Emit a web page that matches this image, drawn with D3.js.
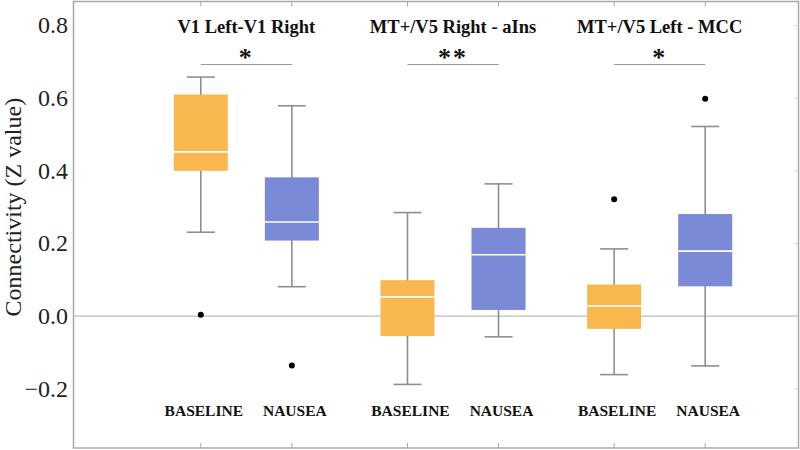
<!DOCTYPE html>
<html>
<head>
<meta charset="utf-8">
<script src="https://cdn.jsdelivr.net/npm/d3@7"></script>
<style>
  body { margin: 0; background: #fff; }
  svg { display: block; }
</style>
</head>
<body>
<div class="chart"></div>
<script>
// values (Z value)
const comparisons = ['V1 Left-V1 Right', 'MT+/V5 Right - aIns', 'MT+/V5 Left - MCC'];
const significance = ['*', '**', '*'];
const conditions = ['BASELINE', 'NAUSEA'];

// one entry per box, ordered comparison by comparison, baseline then nausea
const whiskerLow  = [0.231, 0.081, -0.188, -0.057, -0.161, -0.137];
const q1          = [0.400, 0.208, -0.055,  0.017, -0.035,  0.082];
const medians     = [0.452, 0.259,  0.053,  0.169,  0.028,  0.179];
const q3          = [0.610, 0.382,  0.099,  0.243,  0.087,  0.281];
const whiskerHigh = [0.658, 0.579,  0.285,  0.364,  0.185,  0.522];
const outliers    = [[0.004], [-0.136], [], [], [0.322], [0.598]];

const yTicks = [-0.2, 0.0, 0.2, 0.4, 0.6, 0.8];

const w = 800, h = 450;
const frame = { left: 73.5, right: 798.5, top: 1.5, bottom: 448 };

const svg = d3.select('.chart').append('svg')
  .attr('width', w)
  .attr('height', h);

const y = d3.scaleLinear()
  .domain([-0.363, 0.866])
  .range([frame.bottom, frame.top]);

// band for each comparison, then a point scale for baseline / nausea inside it
const xGroup = d3.scaleBand()
  .domain(comparisons)
  .range([143, 763]);

const xCond = d3.scalePoint()
  .domain(conditions)
  .range([0, xGroup.bandwidth()])
  .padding(0.635);

const boxes = [];
comparisons.forEach((c, i) => {
  conditions.forEach((k, j) => {
    const n = i * 2 + j;
    boxes.push({
      comp: c, cond: k,
      cx: xGroup(c) + xCond(k),
      lo: whiskerLow[n], q1: q1[n], med: medians[n], q3: q3[n], hi: whiskerHigh[n],
      out: outliers[n]
    });
  });
});

const colors = { BASELINE: '#f9b84f', NAUSEA: '#7b8ad6' };
const boxW = 54, capW = 28;
const serif = '"Liberation Serif", "Times New Roman", serif';

// zero line
svg.append('line')
  .attr('x1', frame.left).attr('x2', frame.right)
  .attr('y1', y(0)).attr('y2', y(0))
  .attr('stroke', '#bdbdbd')
  .attr('stroke-width', 1.2);

// frame
svg.append('rect')
  .attr('x', frame.left).attr('y', frame.top)
  .attr('width', frame.right - frame.left).attr('height', frame.bottom - frame.top)
  .attr('fill', 'none')
  .attr('stroke', '#a8a8a8')
  .attr('stroke-width', 1.5);

// small inward ticks on the frame
svg.selectAll('.tick-top')
  .data(boxes)
  .enter().append('line')
  .attr('x1', d => d.cx).attr('x2', d => d.cx)
  .attr('y1', frame.top).attr('y2', frame.top + 5)
  .attr('stroke', '#a8a8a8');

svg.selectAll('.tick-bottom')
  .data(boxes)
  .enter().append('line')
  .attr('x1', d => d.cx).attr('x2', d => d.cx)
  .attr('y1', frame.bottom).attr('y2', frame.bottom - 5)
  .attr('stroke', '#a8a8a8');

svg.selectAll('.tick-right')
  .data(yTicks)
  .enter().append('line')
  .attr('x1', frame.right).attr('x2', frame.right - 4)
  .attr('y1', d => y(d)).attr('y2', d => y(d))
  .attr('stroke', '#d0d0d0');

// y tick labels
svg.selectAll('.ylabel')
  .data(yTicks)
  .enter().append('text')
  .attr('x', 68)
  .attr('y', d => y(d))
  .attr('dy', '0.33em')
  .attr('text-anchor', 'end')
  .style('font-family', serif)
  .style('font-size', '24px')
  .attr('fill', '#222')
  .text(d => d3.format('.1f')(d).replace('-', '\u2212'));

// y axis title
svg.append('text')
  .attr('transform', `translate(21, ${y(0.3)}) rotate(-90)`)
  .attr('text-anchor', 'middle')
  .style('font-family', serif)
  .style('font-size', '24px')
  .attr('fill', '#222')
  .text('Connectivity (Z value)');

const g = svg.append('g');

// whiskers
g.selectAll('.whisker')
  .data(boxes)
  .enter().append('line')
  .attr('x1', d => d.cx).attr('x2', d => d.cx)
  .attr('y1', d => y(d.lo)).attr('y2', d => y(d.hi))
  .attr('stroke', '#8f8f8f')
  .attr('stroke-width', 1.6);

g.selectAll('.cap-hi')
  .data(boxes)
  .enter().append('line')
  .attr('x1', d => d.cx - capW / 2).attr('x2', d => d.cx + capW / 2)
  .attr('y1', d => y(d.hi)).attr('y2', d => y(d.hi))
  .attr('stroke', '#8f8f8f')
  .attr('stroke-width', 1.6);

g.selectAll('.cap-lo')
  .data(boxes)
  .enter().append('line')
  .attr('x1', d => d.cx - capW / 2).attr('x2', d => d.cx + capW / 2)
  .attr('y1', d => y(d.lo)).attr('y2', d => y(d.lo))
  .attr('stroke', '#8f8f8f')
  .attr('stroke-width', 1.6);

// boxes
g.selectAll('.box')
  .data(boxes)
  .enter().append('rect')
  .attr('x', d => d.cx - boxW / 2)
  .attr('y', d => y(d.q3))
  .attr('width', boxW)
  .attr('height', d => y(d.q1) - y(d.q3))
  .attr('fill', d => colors[d.cond]);

// medians
g.selectAll('.median')
  .data(boxes)
  .enter().append('line')
  .attr('x1', d => d.cx - boxW / 2).attr('x2', d => d.cx + boxW / 2)
  .attr('y1', d => y(d.med)).attr('y2', d => y(d.med))
  .attr('stroke', '#fff')
  .attr('stroke-width', 1.6);

// outliers
boxes.forEach(b => {
  g.selectAll(null)
    .data(b.out)
    .enter().append('circle')
    .attr('cx', b.cx)
    .attr('cy', d => y(d))
    .attr('r', 3)
    .attr('fill', '#000');
});

// condition labels under each box
svg.selectAll('.cond')
  .data(boxes)
  .enter().append('text')
  .attr('x', d => d.cx + 3)
  .attr('y', 416)
  .attr('text-anchor', 'middle')
  .style('font-family', serif)
  .style('font-weight', 'bold')
  .style('font-size', '15.5px')
  .attr('fill', '#111')
  .text(d => d.cond);

// comparison titles, significance stars and brackets
const grp = svg.selectAll('.grp')
  .data(comparisons)
  .enter().append('g');

grp.append('text')
  .attr('x', d => xGroup(d) + xGroup.bandwidth() / 2)
  .attr('y', 33)
  .attr('text-anchor', 'middle')
  .style('font-family', serif)
  .style('font-weight', 'bold')
  .style('font-size', '18.5px')
  .attr('fill', '#111')
  .text(d => d);

grp.append('text')
  .attr('x', d => xGroup(d) + xGroup.bandwidth() / 2)
  .attr('y', 66)
  .attr('text-anchor', 'middle')
  .style('font-family', serif)
  .style('font-weight', 'bold')
  .style('font-size', '26px')
  .style('letter-spacing', '2px')
  .attr('fill', '#111')
  .text((d, i) => significance[i]);

grp.append('line')
  .attr('x1', d => xGroup(d) + xCond('BASELINE'))
  .attr('x2', d => xGroup(d) + xCond('NAUSEA'))
  .attr('y1', 64.5).attr('y2', 64.5)
  .attr('stroke', '#999')
  .attr('stroke-width', 1.2);
</script>
</body>
</html>
